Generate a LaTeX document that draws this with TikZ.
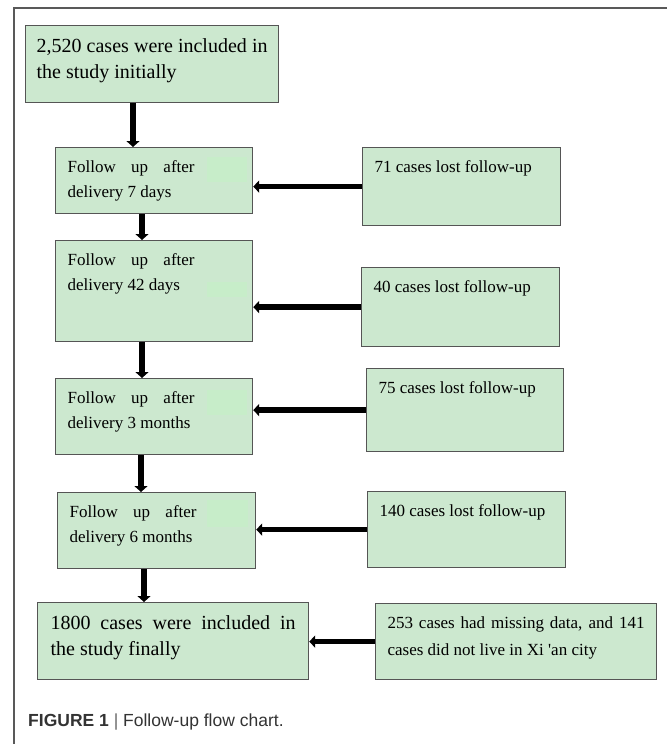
\documentclass[tikz,border=0pt]{standalone}
\usepackage{fontspec}
\setmainfont{Liberation Serif}[Ligatures=TeXOff]
\newfontfamily\capfont{Liberation Sans}
\usetikzlibrary{arrows.meta}

\definecolor{boxfill}{RGB}{204,232,207}
\definecolor{boxline}{RGB}{85,85,85}
\definecolor{patchfill}{RGB}{199,237,201}
\newcommand{\fuline}{\makebox[127pt][s]{Follow up after}}

\begin{document}
\begin{tikzpicture}[x=1pt,y=-1pt,
    box/.style={draw=boxline,fill=boxfill,line width=1.2pt,anchor=north west,
        inner xsep=12pt,inner ysep=8pt,align=justify,text=black,
        font=\fontsize{17}{25}\selectfont,text height=17pt},
    bigbox/.style={box,font=\fontsize{20}{26}\selectfont,text height=18.5pt},
    arr/.style={line width=6pt,-{Triangle[length=6pt,width=13pt]}},
    sidearr/.style={line width=5.5pt,-{Triangle[length=6pt,width=12pt]}},
    frame/.style={draw=black!65,line width=1.5pt}]%
    \useasboundingbox (0,0) rectangle (667,744);%
    \draw[frame] (14,744) -- (14,8) -- (667,8);%
    % main column
    \node[bigbox,inner xsep=11pt,text width=231pt,text depth=42pt] (a) at (25,25)
        {2,520 cases were included in the study initially};%
    \node[box,text width=173pt,text depth=33pt] (b) at (55,147) {\fuline\\delivery 7 days};%
    \node[box,text width=173pt,text depth=68pt] (c) at (55,240) {\fuline\\delivery 42 days};%
    \node[box,text width=173pt,text depth=43pt] (d) at (55,378) {\fuline\\delivery 3 months};%
    \node[box,text width=174pt,text depth=43pt] (e) at (57,492) {\fuline\\delivery 6 months};%
    \node[bigbox,inner xsep=13pt,text width=245pt,text depth=42.5pt] (f) at (37,602)
        {1800 cases were included in the study finally};%
    % losses
    \node[box,text width=174pt,text depth=45pt] (s1) at (362,147) {71 cases lost follow-up};%
    \node[box,text width=174pt,text depth=46pt] (s2) at (361,267) {40 cases lost follow-up};%
    \node[box,text width=173pt,text depth=50pt] (s3) at (366,368) {75 cases lost follow-up};%
    \node[box,text width=174pt,text depth=43pt] (s4) at (367,491) {140 cases lost follow-up};%
    \node[box,font=\fontsize{17}{27}\selectfont,text width=257pt,text depth=43pt] (s5) at (375,603)
        {253 cases had missing data, and 141 cases did not live in Xi 'an city};%
    % light patches in the boxes
    \fill[patchfill] (207,157) rectangle (247,182);%
    \fill[patchfill] (207,282) rectangle (247,297);%
    \fill[patchfill] (207,390) rectangle (247,415);%
    \fill[patchfill] (207,500) rectangle (248,527);%
    % arrows
    \draw[arr] (133,0 |- a.south) -- (133,0 |- b.north);%
    \draw[arr] (142,0 |- b.south) -- (142,0 |- c.north);%
    \draw[arr] (142,0 |- c.south) -- (142,0 |- d.north);%
    \draw[arr] (141,0 |- d.south) -- (141,0 |- e.north);%
    \draw[arr] (144,0 |- e.south) -- (144,0 |- f.north);%
    \draw[sidearr] (s1.west) -- (s1.west -| b.east);%
    \draw[sidearr] (s2.west) -- (s2.west -| c.east);%
    \draw[sidearr] (s3.west) -- (s3.west -| d.east);%
    \draw[sidearr] (s4.west) -- (s4.west -| e.east);%
    \draw[sidearr] (s5.west) -- (s5.west -| f.east);%
    \node[anchor=west,inner sep=0pt,text=black!80,font=\capfont\fontsize{17.5}{20}\selectfont] (cap) at (28,722)
        {\textbf{FIGURE 1} {\color{black!60}|} Follow-up flow chart.};%
\end{tikzpicture}
\end{document}
